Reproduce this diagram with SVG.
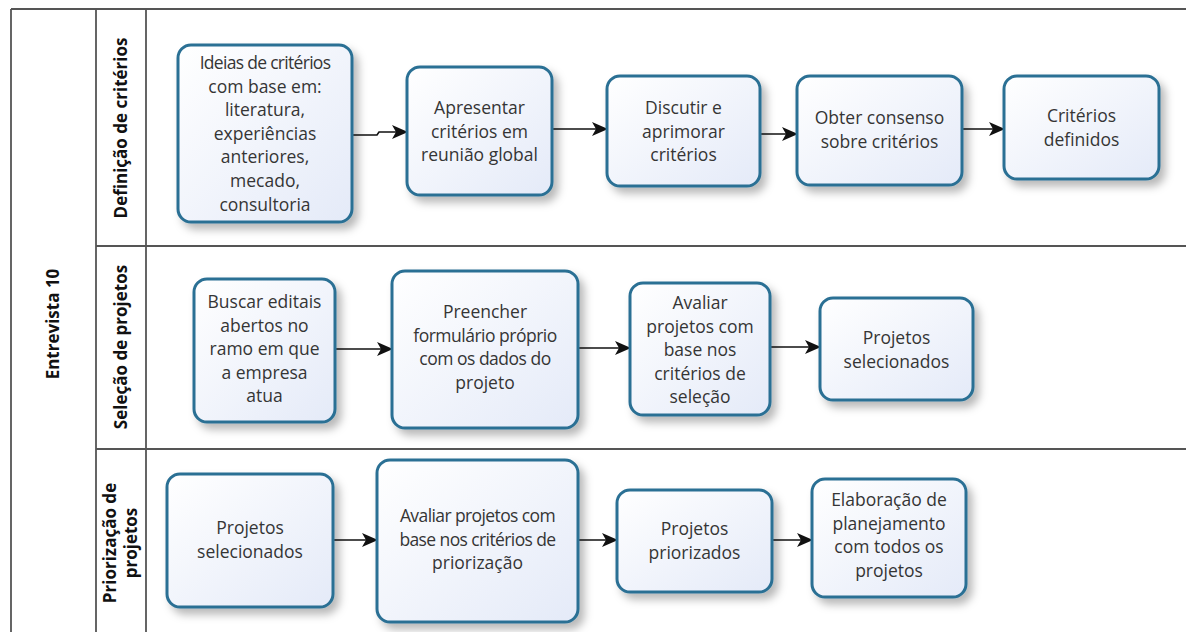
<svg xmlns="http://www.w3.org/2000/svg" width="1186" height="632" viewBox="0 0 1186 632">
  <defs>
    <linearGradient id="boxFill" x1="0" y1="0" x2="1" y2="1">
      <stop offset="0" stop-color="#ffffff"/>
      <stop offset="1" stop-color="#e4eaf8"/>
    </linearGradient>
    <filter id="shadow" x="-20%" y="-20%" width="150%" height="150%">
      <feDropShadow dx="5" dy="6" stdDeviation="4" flood-color="#000" flood-opacity="0.28"/>
    </filter>
    <marker id="arrow" viewBox="0 0 16 14" refX="15" refY="7" markerWidth="16" markerHeight="14" markerUnits="userSpaceOnUse" orient="auto">
      <path d="M0,0 L16,7 L0,14 L4,7 Z" fill="#111"/>
    </marker>
    <style>
      .pool { stroke: #555; stroke-width: 1.8; fill: none; }
      .box { fill: url(#boxFill); stroke: #2b6f94; stroke-width: 3; filter: url(#shadow); }
      .t { font-family: "Open Sans", "Noto Sans", sans-serif; font-size: 17.5px; fill: #353535; text-anchor: middle; }
      .lane { font-family: "Open Sans", "Noto Sans", sans-serif; font-size: 17px; font-weight: bold; fill: #111; text-anchor: middle; }
      .conn { stroke: #111; stroke-width: 1.6; fill: none; marker-end: url(#arrow); }
    </style>
  </defs>

  <rect width="1186" height="632" fill="#ffffff"/>

  <!-- pool and lane frame -->
  <g id="pool">
    <line class="pool" x1="11" y1="9" x2="1186" y2="9"/>
    <line class="pool" x1="11" y1="9" x2="11" y2="632"/>
    <line class="pool" x1="96" y1="9" x2="96" y2="632"/>
    <line class="pool" x1="146" y1="9" x2="146" y2="632"/>
    <line class="pool" x1="96" y1="246" x2="1186" y2="246"/>
    <line class="pool" x1="96" y1="449" x2="1186" y2="449"/>
    <text class="lane" transform="translate(59,324) rotate(-90)">Entrevista 10</text>
    <text class="lane" transform="translate(127,128) rotate(-90)">Definição de critérios</text>
    <text class="lane" transform="translate(127,347) rotate(-90)">Seleção de projetos</text>
    <text class="lane" transform="translate(116,543) rotate(-90)">Priorização de</text>
    <text class="lane" transform="translate(137,543) rotate(-90)">projetos</text>
  </g>

  <!-- connectors -->
  <g id="connectors">
    <path class="conn" d="M352,135 H377 L379,132 H407"/>
    <path class="conn" d="M552,129 H607"/>
    <path class="conn" d="M760,134 H797"/>
    <path class="conn" d="M962,129 H1004"/>
    <path class="conn" d="M335,349 H392"/>
    <path class="conn" d="M578,348 H630"/>
    <path class="conn" d="M770,347 H820"/>
    <path class="conn" d="M333,540 H377"/>
    <path class="conn" d="M578,540 H617"/>
    <path class="conn" d="M772,540 H812"/>
  </g>

  <!-- lane 1: Definição de critérios -->
  <g id="n-ideias">
    <rect class="box" x="178" y="45" width="174" height="177" rx="13"/>
    <text class="t" x="265" y="69"><tspan x="265" letter-spacing="-0.7">Ideias de critérios</tspan><tspan x="265" dy="23.6">com base em:</tspan><tspan x="265" dy="23.6">literatura,</tspan><tspan x="265" dy="23.6">experiências</tspan><tspan x="265" dy="23.6">anteriores,</tspan><tspan x="265" dy="23.6">mecado,</tspan><tspan x="265" dy="23.6">consultoria</tspan></text>
  </g>
  <g id="n-apresentar">
    <rect class="box" x="407" y="67" width="145" height="128" rx="13"/>
    <text class="t" x="479.5" y="114"><tspan x="479.5">Apresentar</tspan><tspan x="479.5" dy="23.5">critérios em</tspan><tspan x="479.5" dy="23.5">reunião global</tspan></text>
  </g>
  <g id="n-discutir">
    <rect class="box" x="607" y="76" width="153" height="110" rx="13"/>
    <text class="t" x="683.5" y="114"><tspan x="683.5">Discutir e</tspan><tspan x="683.5" dy="23.5">aprimorar</tspan><tspan x="683.5" dy="23.5">critérios</tspan></text>
  </g>
  <g id="n-consenso">
    <rect class="box" x="797" y="76" width="165" height="109" rx="13"/>
    <text class="t" x="879.5" y="124"><tspan x="879.5">Obter consenso</tspan><tspan x="879.5" dy="23.5">sobre critérios</tspan></text>
  </g>
  <g id="n-definidos">
    <rect class="box" x="1004" y="76" width="155" height="103" rx="13"/>
    <text class="t" x="1081.5" y="122"><tspan x="1081.5">Critérios</tspan><tspan x="1081.5" dy="23.5">definidos</tspan></text>
  </g>

  <!-- lane 2: Seleção de projetos -->
  <g id="n-buscar">
    <rect class="box" x="194" y="279" width="141" height="143" rx="13"/>
    <text class="t" x="264.5" y="308"><tspan x="264.5">Buscar editais</tspan><tspan x="264.5" dy="23.5">abertos no</tspan><tspan x="264.5" dy="23.5">ramo em que</tspan><tspan x="264.5" dy="23.5">a empresa</tspan><tspan x="264.5" dy="23.5">atua</tspan></text>
  </g>
  <g id="n-preencher">
    <rect class="box" x="392" y="271" width="186" height="157" rx="13"/>
    <text class="t" x="485" y="318"><tspan x="485">Preencher</tspan><tspan x="485" dy="23.5" letter-spacing="-0.5">formulário próprio</tspan><tspan x="485" dy="23.5" letter-spacing="-0.5">com os dados do</tspan><tspan x="485" dy="23.5">projeto</tspan></text>
  </g>
  <g id="n-avaliar-selecao">
    <rect class="box" x="630" y="283" width="140" height="132" rx="13"/>
    <text class="t" x="700" y="309"><tspan x="700">Avaliar</tspan><tspan x="700" dy="23.5">projetos com</tspan><tspan x="700" dy="23.5">base nos</tspan><tspan x="700" dy="23.5">critérios de</tspan><tspan x="700" dy="23.5">seleção</tspan></text>
  </g>
  <g id="n-selecionados-1">
    <rect class="box" x="820" y="298" width="153" height="102" rx="13"/>
    <text class="t" x="896.5" y="344"><tspan x="896.5">Projetos</tspan><tspan x="896.5" dy="23.5">selecionados</tspan></text>
  </g>

  <!-- lane 3: Priorização de projetos -->
  <g id="n-selecionados-2">
    <rect class="box" x="167" y="474" width="166" height="133" rx="13"/>
    <text class="t" x="250" y="534"><tspan x="250">Projetos</tspan><tspan x="250" dy="23.5">selecionados</tspan></text>
  </g>
  <g id="n-avaliar-priorizacao">
    <rect class="box" x="377" y="460" width="201" height="162" rx="13"/>
    <text class="t" x="477.5" y="522"><tspan x="477.5" letter-spacing="-0.6">Avaliar projetos com</tspan><tspan x="477.5" dy="23.5" letter-spacing="-0.6">base nos critérios de</tspan><tspan x="477.5" dy="23.5">priorização</tspan></text>
  </g>
  <g id="n-priorizados">
    <rect class="box" x="617" y="490" width="155" height="102" rx="13"/>
    <text class="t" x="694.5" y="535"><tspan x="694.5">Projetos</tspan><tspan x="694.5" dy="23.5">priorizados</tspan></text>
  </g>
  <g id="n-elaboracao">
    <rect class="box" x="812" y="479" width="154" height="118" rx="13"/>
    <text class="t" x="889" y="506"><tspan x="889">Elaboração de</tspan><tspan x="889" dy="23.5">planejamento</tspan><tspan x="889" dy="23.5">com todos os</tspan><tspan x="889" dy="23.5">projetos</tspan></text>
  </g>
</svg>
